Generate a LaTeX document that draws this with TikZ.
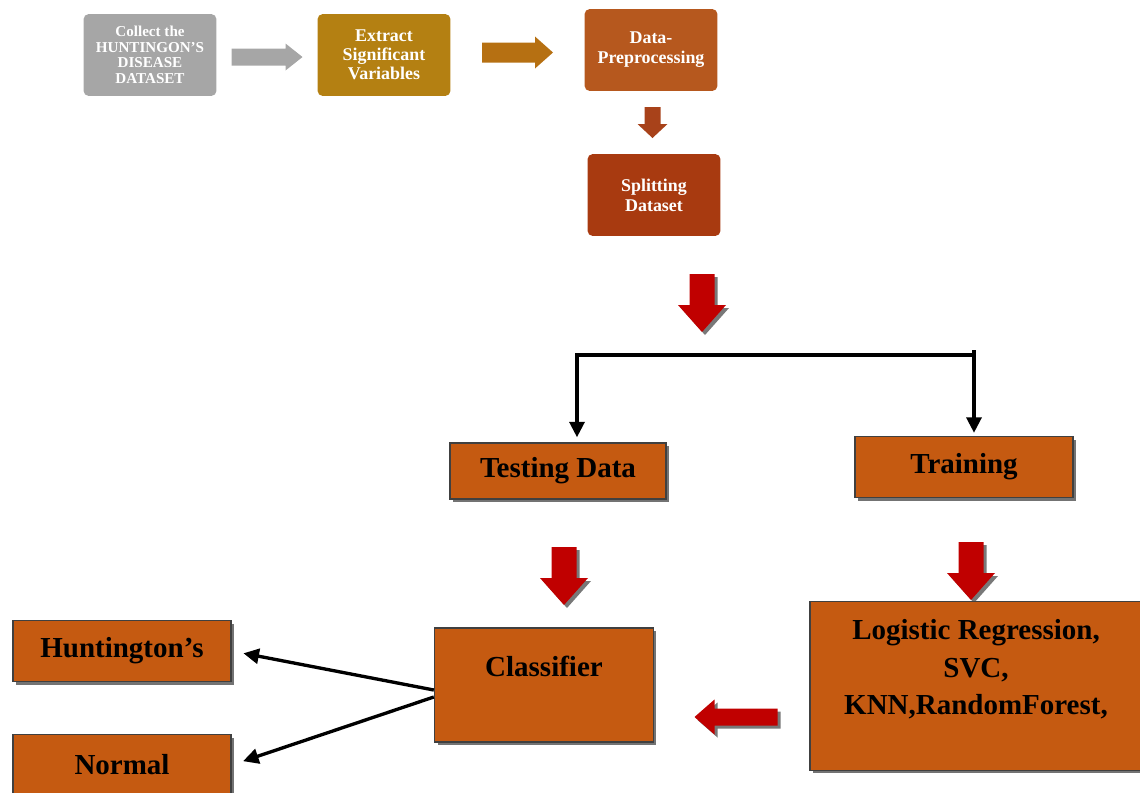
\documentclass[tikz,border=0pt]{standalone}
\usepackage{fontspec}
\setmainfont{Liberation Serif}
\usetikzlibrary{arrows.meta, positioning, shadows, calc}
\definecolor{collectgray}{RGB}{166,166,166}
\definecolor{extractgold}{RGB}{180,128,18}
\definecolor{prepbrown}{RGB}{182,88,30}
\definecolor{splitrust}{RGB}{168,58,16}
\definecolor{goldarrow}{RGB}{182,112,18}
\definecolor{rustarrow}{RGB}{168,66,26}
\definecolor{boxorange}{RGB}{197,90,17}
\definecolor{arrowred}{RGB}{192,0,0}
\definecolor{arrowshade}{RGB}{120,120,120}

\begin{document}
\begin{tikzpicture}[x=0.02cm, y=-0.02cm,
    topbox/.style={rounded corners=3pt, text=white, align=center, inner sep=0pt,
      minimum width=2.66cm, minimum height=1.64cm},
    flowbox/.style={fill=boxorange, draw=black!75, line width=0.8pt, align=center,
      font=\fontsize{16.5}{21.5}\selectfont\bfseries,
      drop shadow={shadow xshift=0.6mm, shadow yshift=-0.6mm, fill=black!55, opacity=1}},
    conn/.style={line width=1.9pt, -{Triangle[length=3.1mm, width=3mm]}},
    pics/blockarr/.style n args={5}{code={
      \fill[#1] (-#2/2,-#3/2) -- (#2/2-#5,-#3/2) -- (#2/2-#5,-#4/2) -- (#2/2,0)
        -- (#2/2-#5,#4/2) -- (#2/2-#5,#3/2) -- (-#2/2,#3/2) -- cycle;
    }}
  ]
  \useasboundingbox (0,0) rectangle (1140,792);

  % top row
  \node[topbox, fill=collectgray, font=\fontsize{8.6}{8.9}\selectfont\bfseries] (collect) at (150,55)
    {Collect the\\HUNTINGON'S\\DISEASE\\DATASET};
  \node[topbox, fill=extractgold, font=\fontsize{10.2}{10.8}\selectfont\bfseries] (extract) at (384,55)
    {Extract\\Significant\\Variables};
  \node[topbox, fill=prepbrown, font=\fontsize{10.2}{11.4}\selectfont\bfseries] (prep) at (651,50)
    {Data-\\Preprocessing};
  \node[topbox, fill=splitrust, font=\fontsize{10.2}{11.4}\selectfont\bfseries] (split) at (654,195)
    {Splitting\\Dataset};

  \pic at ($(collect.east)!0.5!(extract.west)+(0,2)$) {blockarr={collectgray}{71}{17}{27}{17}};
  \pic at ($(extract.east)!0.5!(prep.west)+(0,0)$) {blockarr={goldarrow}{71}{20}{32}{18}};
  \pic[rotate=-90] at ($(prep.south)!0.5!(split.north)$) {blockarr={rustarrow}{31}{16}{30}{14}};

  % red block arrows
  \pic[rotate=-90] at (705,306) {blockarr={arrowshade}{58}{25}{48}{27}};
  \pic[rotate=-90] at (702,303) {blockarr={arrowred}{58}{25}{48}{27}};

  % split into testing / training
  \node[flowbox, minimum width=4.32cm, minimum height=1.12cm] (test) at (558,471) {Testing Data};
  \node[flowbox, minimum width=4.36cm, minimum height=1.22cm] (train) at (964,467) {Training};
  \coordinate (forkL) at (577,355);
  \coordinate (forkR) at (974,355);
  \draw[conn, shorten >=1mm] (forkR) -- (forkL) -- (forkL |- test.north);
  \draw[conn, shorten >=0.6mm] ($(forkR)+(0,-5)$) -- (forkR |- train.north);

  \pic[rotate=-90] at (567,579) {blockarr={arrowshade}{58}{25}{48}{27}};
  \pic[rotate=-90] at (564,576) {blockarr={arrowred}{58}{25}{48}{27}};
  \pic[rotate=-90] at (974,574) {blockarr={arrowshade}{58}{25}{48}{27}};
  \pic[rotate=-90] at (971,571) {blockarr={arrowred}{58}{25}{48}{27}};

  % classification
  \node[flowbox, minimum width=4.38cm, minimum height=2.28cm] (clf) at (544,685) {Classifier\\\mbox{}};
  \node[flowbox, minimum width=6.64cm, minimum height=3.38cm] (models) at (976,686)
    {Logistic Regression,\\SVC,\\KNN,RandomForest,\\\mbox{}};
  \node[flowbox, minimum width=4.36cm, minimum height=1.22cm] (hunt) at (122,651) {Huntington’s};
  \node[flowbox, minimum width=4.36cm, minimum height=1.22cm] (normal) at (122,765) {Normal};

  \pic[rotate=180] at (739,720) {blockarr={arrowshade}{83}{17}{35}{20}};
  \pic[rotate=180] at (736,717) {blockarr={arrowred}{83}{17}{35}{20}};

  \draw[conn, shorten >=2.4mm] ($(clf.west)+(0,5)$) -- (hunt.east);
  \draw[conn, shorten >=2.4mm] ($(clf.west)+(0,12)$) -- (normal.east);
\end{tikzpicture}
\end{document}
